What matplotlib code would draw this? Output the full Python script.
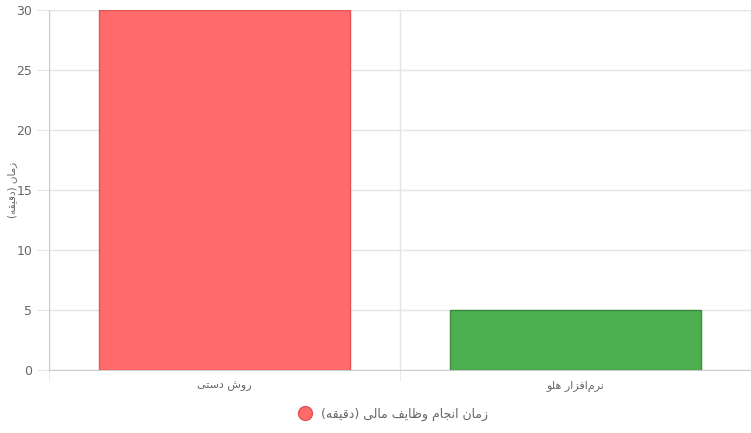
import matplotlib
matplotlib.use("Agg")
import matplotlib.pyplot as plt
from matplotlib.lines import Line2D

# data
categories = ["روش دستی", "نرم\u200cافزار هلو"]
minutes = [30, 5]
bar_colors = ["#ff6b6b", "#4caf50"]
edge_colors = ["#e05555", "#3d8b40"]
y_label = "زمان (دقیقه)"
series_name = "زمان انجام وظایف مالی (دقیقه)"
y_ticks = [0, 5, 10, 15, 20, 25, 30]

# tiny persian shaper: (isolated, final, initial, medial); 2-tuple = right-joining only
FORMS = {
    "\u0627": (0xFE8D, 0xFE8E), "\u062F": (0xFEA9, 0xFEAA), "\u0631": (0xFEAD, 0xFEAE),
    "\u0632": (0xFEAF, 0xFEB0), "\u0648": (0xFEED, 0xFEEE),
    "\u0645": (0xFEE1, 0xFEE2, 0xFEE3, 0xFEE4), "\u0646": (0xFEE5, 0xFEE6, 0xFEE7, 0xFEE8),
    "\u0642": (0xFED5, 0xFED6, 0xFED7, 0xFED8), "\u06CC": (0xFBFC, 0xFBFD, 0xFBFE, 0xFBFF),
    "\u0647": (0xFEE9, 0xFEEA, 0xFEEB, 0xFEEC), "\u062C": (0xFE9D, 0xFE9E, 0xFE9F, 0xFEA0),
    "\u0638": (0xFEC5, 0xFEC6, 0xFEC7, 0xFEC8), "\u0641": (0xFED1, 0xFED2, 0xFED3, 0xFED4),
    "\u0644": (0xFEDD, 0xFEDE, 0xFEDF, 0xFEE0), "\u0634": (0xFEB5, 0xFEB6, 0xFEB7, 0xFEB8),
    "\u0633": (0xFEB1, 0xFEB2, 0xFEB3, 0xFEB4), "\u062A": (0xFE95, 0xFE96, 0xFE97, 0xFE98),
}
MIRROR = {"(": ")", ")": "("}


def shape(text):
    out = []
    for i, ch in enumerate(text):
        if ch == "\u200c":
            continue
        if ch not in FORMS:
            out.append(MIRROR.get(ch, ch))
            continue
        f = FORMS[ch]
        prev = text[i - 1] if i > 0 else ""
        nxt = text[i + 1] if i + 1 < len(text) else ""
        join_prev = prev in FORMS and len(FORMS[prev]) == 4
        join_next = len(f) == 4 and nxt in FORMS
        if join_prev and join_next:
            code = f[3]
        elif join_prev:
            code = f[1]
        elif join_next:
            code = f[2]
        else:
            code = f[0]
        out.append(chr(code))
    return "".join(reversed(out))


plt.rcParams["font.family"] = ["DejaVu Sans"]
grid_c = "#e5e5e5"
text_c = "#666666"

fig = plt.figure(figsize=(7.51, 4.33), dpi=100)
ax = fig.add_axes([49 / 751, 63 / 433, 702 / 751, 360 / 433])

x = range(len(categories))
ax.bar(x, minutes, width=0.715, color=bar_colors, edgecolor=edge_colors, linewidth=1, zorder=3)

ax.set_xlim(-0.5, 1.5)
ax.set_ylim(0, 30)
ax.set_yticks(y_ticks)
ax.set_xticks(list(x))
ax.set_xticklabels([shape(c) for c in categories])
ax.set_xticks([-0.5, 0.5, 1.5], minor=True)

ax.grid(axis="y", color=grid_c, linewidth=1, zorder=0)
ax.grid(axis="x", which="minor", color=grid_c, linewidth=1, zorder=0)
ax.tick_params(axis="y", length=9, color=grid_c, labelcolor=text_c, labelsize=9, pad=3)
ax.tick_params(axis="x", which="major", length=0, labelcolor=text_c, labelsize=8, pad=8)
ax.tick_params(axis="x", which="minor", length=8, color=grid_c)
for side in ["top", "right"]:
    ax.spines[side].set_visible(False)
ax.spines["left"].set_color("#cccccc")
ax.spines["bottom"].set_color("#cccccc")

fig.text(12 / 751, 1 - 190 / 433, shape(y_label), rotation=90, color=text_c,
         fontsize=7.5, ha="center", va="center")

handle = Line2D([], [], marker="o", linestyle="", markersize=10,
                markerfacecolor=bar_colors[0], markeredgecolor=edge_colors[0])
fig.legend([handle], [shape(series_name)], loc="center", bbox_to_anchor=(390 / 751, 1 - 414 / 433),
           frameon=False, fontsize=9, labelcolor=text_c, handletextpad=0.3)

fig.savefig("out.png", dpi=100)
